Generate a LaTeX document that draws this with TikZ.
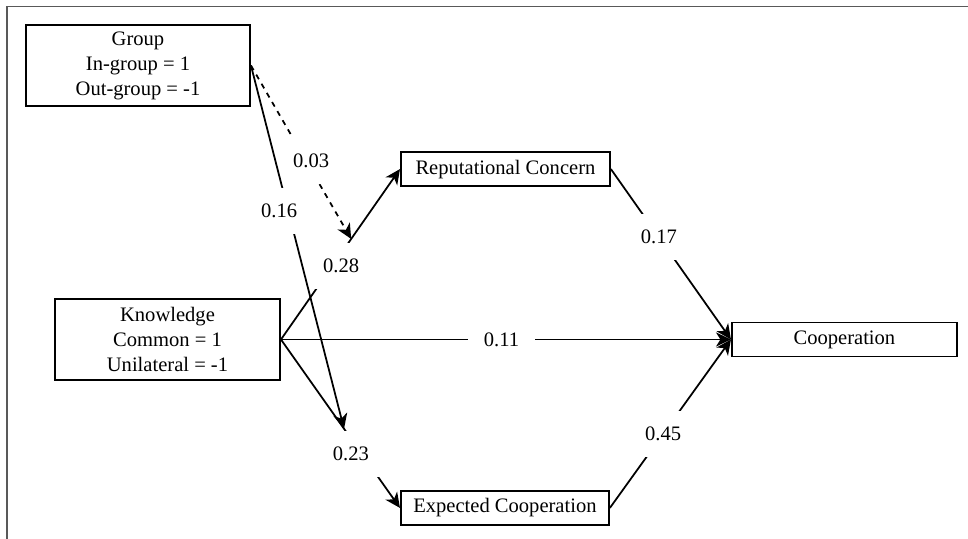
\documentclass[tikz,border=0pt]{standalone}
\usepackage{fontspec}
\setmainfont{Liberation Serif}
\usepackage{tikz}
\usetikzlibrary{arrows.meta,positioning}

\begin{document}
\begin{tikzpicture}[->,>={Stealth[length=8.5pt,width=8pt,inset=2.5pt]},line width=1pt,
            font=\fontsize{11.7}{14.2}\selectfont]
        \tikzstyle{box}=[draw=black,rectangle,align=center,minimum height=0.68cm,inner sep=2pt,line width=1.1pt]
        \tikzstyle{lbl}=[fill=white,inner sep=9pt]

        \useasboundingbox (0,0) rectangle (19.36,-10.78);
        \draw[-,black!65,line width=1.1pt] (0.14,-10.78) -- (0.14,-0.13) -- (19.36,-0.13);

        \node[box,minimum width=4.48cm,minimum height=1.62cm] (G) at (2.76,-1.31) {Group\\In-group = 1\\Out-group = -1};
        \node[box,minimum width=4.5cm,minimum height=1.62cm] (K) at (3.35,-6.79) {Knowledge\\Common = 1\\Unilateral = -1};
        \node[box,minimum width=4.18cm] (R) [above right=2.22cm and 2.38cm of K] {Reputational Concern};
        \node[box,minimum width=4.16cm] (E) [below right=2.18cm and 2.38cm of K] {Expected Cooperation};
        \node[box,minimum width=4.5cm] (C) [right=9cm of K] {Cooperation};

        \path (K.east) -- (R.west) coordinate[pos=0.59] (m1);
        \path (K.east) -- (E.west) coordinate[pos=0.53] (m2);

        \path (K.east) edge node[lbl,pos=0.43,xshift=0.18cm] {0.28} (R.west);
        \path (K.east) edge node[lbl,pos=0.68,xshift=-0.22cm] {0.23} (E.west);
        \path (K.east) edge node[lbl,pos=0.49] {0.11} (C.west);
        \path (R.east) edge node[lbl,pos=0.40] {0.17} (C.west);
        \path (E.east) edge node[lbl,pos=0.44] {0.45} (C.west);
        \path (G.east) edge[dashed] node[lbl,pos=0.55,xshift=0.1cm] {0.03} (m1);
        \path (G.east) edge node[lbl,pos=0.40,xshift=-0.18cm] {0.16} (m2);
    \end{tikzpicture}
\end{document}
